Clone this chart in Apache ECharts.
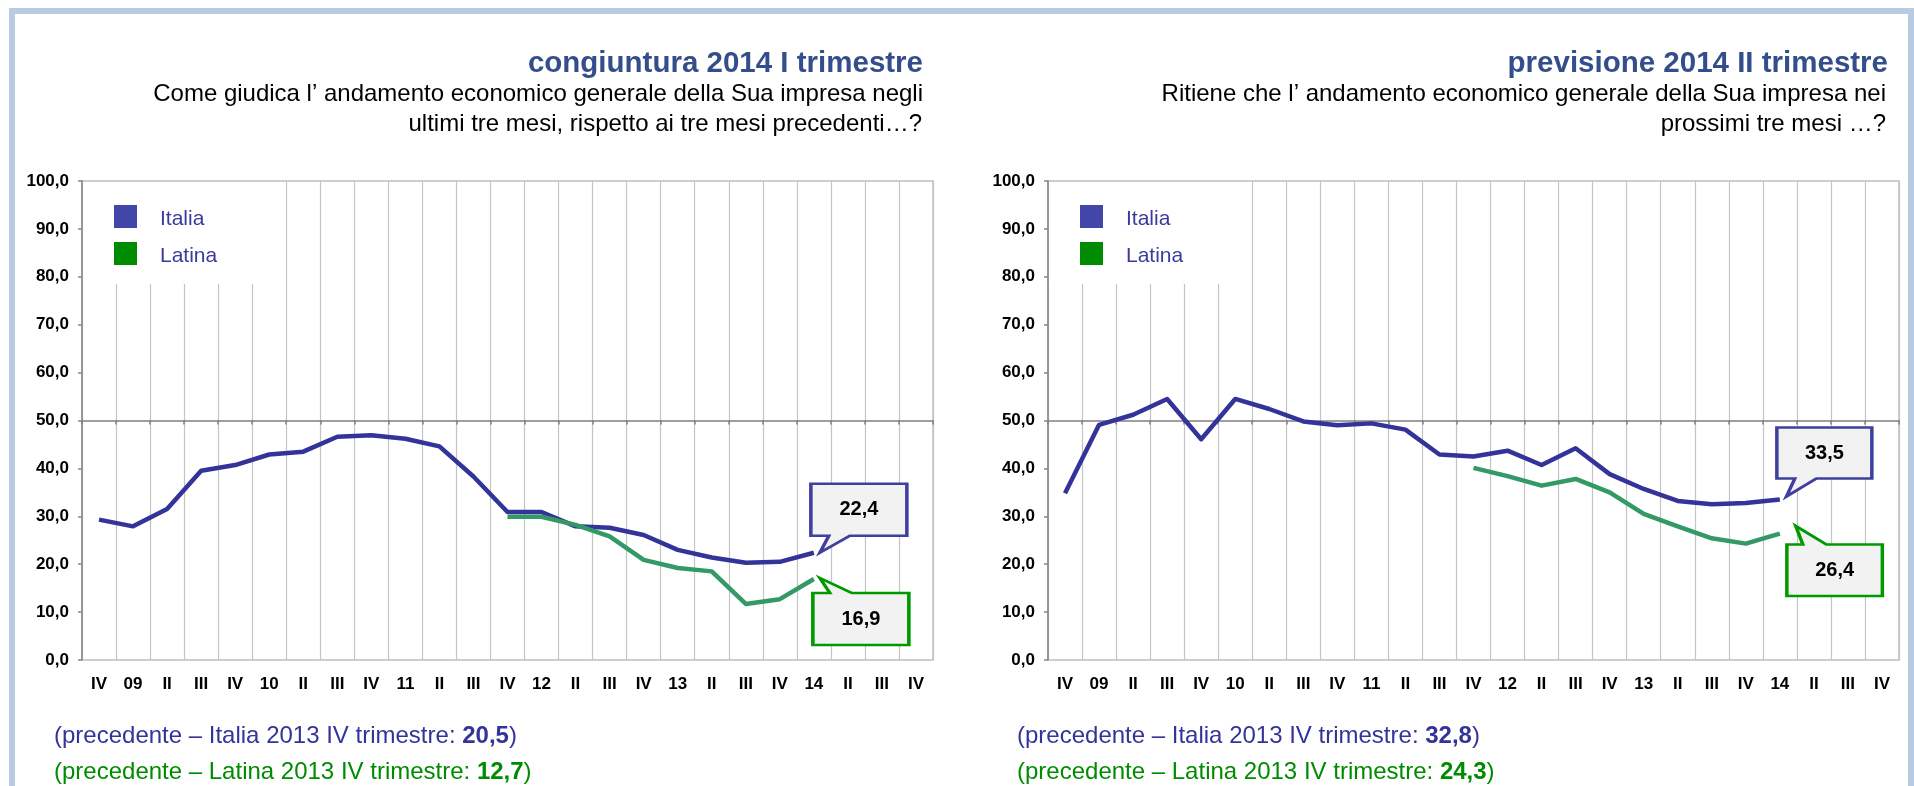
<!DOCTYPE html>
<html>
<head>
<meta charset="utf-8">
<script src="https://cdn.jsdelivr.net/npm/echarts@6/dist/echarts.min.js"></script>
<style>
  html, body { margin: 0; padding: 0; background: #fff; }
  #chart { width: 1914px; height: 786px; }
</style>
</head>
<body>
<div id="chart"></div>
<script>
// quarters from IV 2008 to IV 2014
var quarters = ['IV', '09', 'II', 'III', 'IV', '10', 'II', 'III', 'IV', '11', 'II', 'III', 'IV',
    '12', 'II', 'III', 'IV', '13', 'II', 'III', 'IV', '14', 'II', 'III', 'IV'];

// congiuntura (left)
var italiaCong = [29.3, 27.9, 31.5, 39.5, 40.7, 42.9, 43.5, 46.6, 46.9, 46.2, 44.6, 38.3, 30.9,
    30.9, 27.9, 27.6, 26.1, 23.0, 21.4, 20.3, 20.5, 22.4];
var latinaCong = [null, null, null, null, null, null, null, null, null, null, null, null, 29.9,
    29.9, 28.2, 25.8, 20.9, 19.2, 18.5, 11.7, 12.7, 16.9];

// previsione (right)
var italiaPrev = [34.8, 49.1, 51.2, 54.5, 46.1, 54.5, 52.4, 49.8, 49.0, 49.4, 48.1, 42.9, 42.5,
    43.7, 40.7, 44.2, 38.8, 35.7, 33.2, 32.5, 32.8, 33.5];
var latinaPrev = [null, null, null, null, null, null, null, null, null, null, null, null, 40.1,
    38.4, 36.4, 37.8, 35.0, 30.5, 27.9, 25.4, 24.3, 26.4];

var FONT = "'Liberation Sans', Arial, sans-serif";
var BLUE = '#333399', GREEN = '#339966';
var LAST = 21, PREV = 20;

function fmt(v) { return v.toFixed(1).replace('.', ','); }

// callout shape (box + wedge) built relative to the data point it points at
function callout(box, tip, base, tailOnBottom, border) {
    var x0 = box[0], y0 = box[1], x1 = box[2], y1 = box[3];
    var pts = tailOnBottom
        ? [[x0, y0], [x1, y0], [x1, y1], [base[1], y1], tip, [base[0], y1], [x0, y1]]
        : [[x0, y0], [base[0], y0], tip, [base[1], y0], [x1, y0], [x1, y1], [x0, y1]];
    var minX = Math.min(x0, tip[0]), maxX = Math.max(x1, tip[0]);
    var minY = Math.min(y0, tip[1]), maxY = Math.max(y1, tip[1]);
    var cx = (minX + maxX) / 2, cy = (minY + maxY) / 2;
    return {
        symbol: 'path://M' + pts.map(function (p) { return p[0] + ' ' + p[1]; }).join(' L') + ' Z',
        symbolSize: [maxX - minX, maxY - minY],
        symbolOffset: [cx, cy],
        itemStyle: { color: '#f2f2f2', borderColor: border, borderWidth: 3 },
        label: {
            show: true, position: 'inside',
            offset: [(x0 + x1) / 2 - cx, (y0 + y1) / 2 - cy],
            formatter: function (p) { return fmt(p.value); },
            fontFamily: FONT, fontSize: 20, fontWeight: 'bold', color: '#000'
        }
    };
}

function mp(shape, arr) {
    var m = shape;
    m.data = [{ coord: [LAST, arr[LAST]], value: arr[LAST] }];
    m.animation = false;
    return m;
}

var grids = [
    { left: 82, top: 181, width: 851, height: 479 },
    { left: 1048, top: 181, width: 851, height: 479 }
];

// square on top of a taller (empty) box, so the name sits a bit lower than the square centre
var legendIcon = 'path://M0 0 L23 0 L23 23 L0 23 Z M0 29 L0.01 29';

var xAxes = [], yAxes = [], legends = [];
grids.forEach(function (g, i) {
    g.show = true;
    g.borderColor = '#bfbfbf';
    g.borderWidth = 1.5;
    g.backgroundColor = 'transparent';
    xAxes.push({
        type: 'category', gridIndex: i, data: quarters, position: 'bottom',
        axisLine: { show: false, onZero: false },
        axisTick: { show: false },
        axisLabel: { interval: 0, margin: 16, color: '#000', fontFamily: FONT, fontSize: 17, fontWeight: 'bold' },
        splitLine: { show: true, interval: 0, lineStyle: { color: '#c4c4c4', width: 1.2 } }
    });
    // axis crossing at 50
    xAxes.push({
        type: 'category', gridIndex: i, data: quarters, position: 'bottom',
        axisLine: { show: true, onZero: true, onZeroAxisIndex: i * 2 + 1, lineStyle: { color: '#808080', width: 1.5 } },
        axisTick: { show: true, interval: 0, length: 4, lineStyle: { color: '#808080', width: 1.5 } },
        axisLabel: { show: false },
        splitLine: { show: false }
    });
    yAxes.push({
        type: 'value', gridIndex: i, min: 0, max: 100, interval: 10,
        axisLine: { show: true, lineStyle: { color: '#868686', width: 1.5 } },
        axisTick: { show: true, length: 4, lineStyle: { color: '#868686', width: 1.5 } },
        axisLabel: { margin: 13, color: '#000', fontFamily: FONT, fontSize: 17, fontWeight: 'bold', formatter: fmt },
        splitLine: { show: false }
    });
    yAxes.push({ type: 'value', gridIndex: i, min: -50, max: 50, show: false });
    legends.push({
        orient: 'vertical', left: g.left + 1, top: g.top + 1,
        padding: [23, 53, 13, 31], itemGap: 8, itemWidth: 23, itemHeight: 29,
        backgroundColor: '#fff', icon: legendIcon, selectedMode: false,
        textStyle: { color: '#3a3a9c', fontFamily: FONT, fontSize: 21, padding: [0, 0, 0, 18] },
        data: [
            { name: 'Italia', itemStyle: { color: '#4146a8' } },
            { name: 'Latina', itemStyle: { color: '#008c00' } }
        ]
    });
});

function line(name, data, idx, color, markPoint) {
    return {
        name: name, type: 'line', data: data, xAxisIndex: idx * 2, yAxisIndex: idx * 2,
        showSymbol: false, symbol: 'none', color: color, connectNulls: false,
        lineStyle: { color: color, width: 4.5, join: 'round' },
        markPoint: markPoint, animation: false, z: 3
    };
}

var series = [
    line('Italia', italiaCong, 0, BLUE, mp(callout([-3, -69, 93, -17], [6, 0], [15, 36], true, '#3f3f9f'), italiaCong)),
    line('Latina', latinaCong, 0, GREEN, mp(callout([-1, 14, 95, 66], [6, -1], [16, 38], false, '#009a00'), latinaCong)),
    line('Italia', italiaPrev, 1, BLUE, mp(callout([-3, -72, 92, -21], [6.5, -3], [15, 36.5], true, '#3f3f9f'), italiaPrev)),
    line('Latina', latinaPrev, 1, GREEN, mp(callout([7, 11, 102.5, 62.4], [15.8, -7.6], [23, 46.5], false, '#009a00'), latinaPrev))
];

function head(text, right, top, size, bold, color) {
    return { text: text, right: right, top: top, padding: 0,
        textStyle: { fontFamily: FONT, fontSize: size, fontWeight: bold ? 'bold' : 'normal', color: color } };
}
function note(label, value, left, top, color) {
    return {
        text: '{a|(precedente \u2013 ' + label + ' 2013 IV trimestre: }{b|' + fmt(value) + '}{a|)}',
        left: left, top: top, padding: 0,
        textStyle: { fontWeight: 'normal', rich: {
            a: { fontFamily: FONT, fontSize: 24, color: color, fontWeight: 'normal' },
            b: { fontFamily: FONT, fontSize: 24, color: color, fontWeight: 'bold' }
        } }
    };
}

var titles = [
    head('congiuntura 2014 I trimestre', 991, 49, 29.5, true, '#344e8c'),
    head('Come giudica l\u2019 andamento economico generale della Sua impresa negli', 991, 82, 24, false, '#000'),
    head('ultimi tre mesi, rispetto ai tre mesi precedenti\u2026?', 992, 112, 24, false, '#000'),
    head('previsione 2014 II trimestre', 26, 49, 29.5, true, '#344e8c'),
    head('Ritiene che l\u2019 andamento economico generale della Sua impresa nei', 28, 82, 24, false, '#000'),
    head('prossimi tre mesi \u2026?', 28, 112, 24, false, '#000'),
    note('Italia', italiaCong[PREV], 54, 724, '#333399'),
    note('Latina', latinaCong[PREV], 54, 760, '#008c00'),
    note('Italia', italiaPrev[PREV], 1017, 724, '#333399'),
    note('Latina', latinaPrev[PREV], 1017, 760, '#008c00')
];

var chart = echarts.init(document.getElementById('chart'), null, { renderer: 'canvas' });
chart.setOption({
    backgroundColor: '#fff',
    animation: false,
    title: titles,
    legend: legends,
    grid: grids,
    xAxis: xAxes,
    yAxis: yAxes,
    series: series,
    graphic: [{
        type: 'rect', left: 9, top: 8, z: -1, silent: true,
        shape: { width: 1899, height: 800 },
        style: { fill: 'transparent', stroke: '#b9cbe0', lineWidth: 6 }
    }]
});
</script>
</body>
</html>
